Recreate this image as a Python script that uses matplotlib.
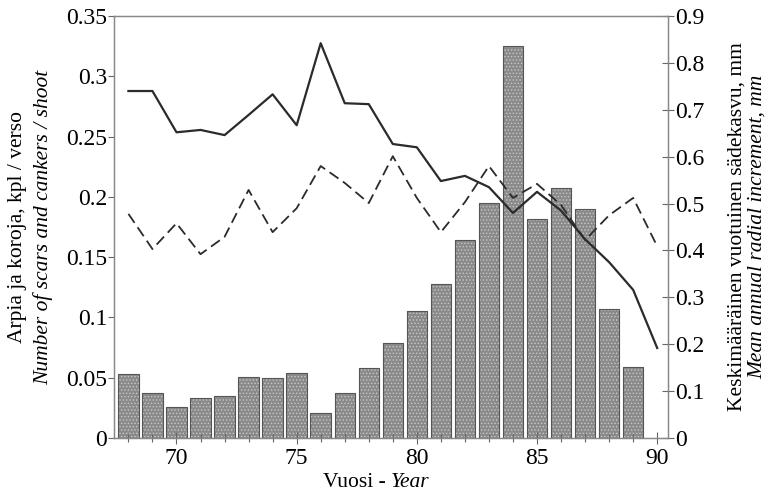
import numpy as np
import matplotlib
matplotlib.use('Agg')
import matplotlib.pyplot as plt
from matplotlib.ticker import MultipleLocator, FuncFormatter

plt.rcParams['font.family'] = 'Liberation Serif'
plt.rcParams['font.size'] = 15
plt.rcParams['hatch.linewidth'] = 0.6

# data
years_bar = list(range(68, 90))
scars = [0.053, 0.037, 0.026, 0.033, 0.035, 0.051, 0.050, 0.054, 0.021, 0.037, 0.058,
         0.079, 0.105, 0.128, 0.164, 0.195, 0.325, 0.182, 0.207, 0.190, 0.107, 0.059]

years_line = list(range(68, 91))
increment_solid = [0.740, 0.740, 0.652, 0.657, 0.646, 0.689, 0.733, 0.667, 0.842, 0.714, 0.712,
                   0.627, 0.620, 0.548, 0.559, 0.535, 0.480, 0.525, 0.485, 0.424, 0.375, 0.316, 0.192]
increment_dash = [0.478, 0.403, 0.458, 0.392, 0.429, 0.529, 0.439, 0.490, 0.580, 0.544, 0.501,
                  0.601, 0.512, 0.439, 0.503, 0.580, 0.512, 0.542, 0.497, 0.422, 0.475, 0.512, 0.409]

fig = plt.figure(figsize=(7.69, 4.96), dpi=100)
ax = fig.add_axes([114/769, 1-438/496, (668-114)/769, (438-16)/496])
ax2 = ax.twinx()

# dotted fill, then a dark outline on top
ax.bar(years_bar, scars, width=0.85, color='#8a8a8a', edgecolor='#c8c8c8', hatch='.....', linewidth=0)
ax.bar(years_bar, scars, width=0.85, fill=False, edgecolor='#555555', linewidth=0.8)

ax2.plot(years_line, increment_solid, '-', color='#2b2b2b', lw=1.6)
ax2.plot(years_line, increment_dash, color='#2b2b2b', lw=1.3, dashes=(6, 3))

ax.set_xlim(67.4, 90.45)
ax.set_ylim(0, 0.35)
ax2.set_ylim(0, 0.9)

fmt = FuncFormatter(lambda v, p: '%g' % round(v, 3))
ax.xaxis.set_major_locator(MultipleLocator(5))
ax.xaxis.set_minor_locator(MultipleLocator(1))
ax.yaxis.set_major_locator(MultipleLocator(0.05))
ax.yaxis.set_major_formatter(fmt)
ax2.yaxis.set_major_locator(MultipleLocator(0.1))
ax2.yaxis.set_major_formatter(fmt)

ax.tick_params(axis='x', which='both', direction='inout', length=8, width=0.8, color='#666666', pad=3, labelsize=17)
ax.tick_params(axis='x', which='minor', length=6)
ax.tick_params(axis='y', direction='out', length=4, width=0.8, color='#666666', pad=1, labelsize=17)
ax2.tick_params(axis='y', direction='inout', length=8, width=0.8, color='#666666', pad=1, labelsize=17)

for a in (ax, ax2):
    for s in a.spines.values():
        s.set_color('#888888')
        s.set_linewidth(0.9)

# axis labels (two lines each, second one italic)
ax.text(-0.175, 0.5, 'Arpia ja koroja, kpl / verso', transform=ax.transAxes,
        rotation=90, ha='center', va='center', fontsize=15.5)
ax.text(-0.127, 0.5, 'Number of scars and cankers / shoot', transform=ax.transAxes,
        rotation=90, ha='center', va='center', fontsize=15.5, fontstyle='italic')
ax2.text(1.1245, 0.5, 'Keskimääräinen vuotuinen sädekasvu, mm', transform=ax2.transAxes,
         rotation=90, ha='center', va='center', fontsize=15.5)
ax2.text(1.161, 0.5, 'Mean annual radial increment, mm', transform=ax2.transAxes,
         rotation=90, ha='center', va='center', fontsize=15.5, fontstyle='italic')

ax.text(0.5, -0.105, 'Vuosi - ', transform=ax.transAxes, ha='right', va='center', fontsize=15.5)
ax.text(0.5, -0.105, 'Year', transform=ax.transAxes, ha='left', va='center', fontsize=15.5, fontstyle='italic')

fig.savefig('out.png', dpi=100)
